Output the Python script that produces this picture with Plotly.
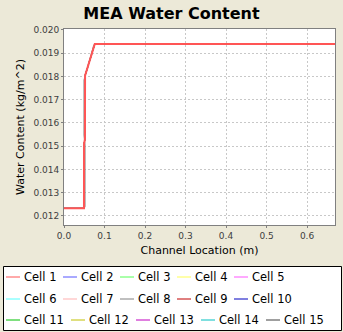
import plotly.graph_objects as go

# channel location (m) and water content (kg/m^2)
loc_main = [0.0, 0.0493, 0.0495, 0.0517, 0.0520, 0.0742, 0.0760, 0.669]
water_main = [0.01233, 0.01233, 0.01510, 0.01530, 0.01803, 0.01935, 0.01940, 0.01940]

# cell 8 is slightly offset at the jump
loc_cell8 = [0.0, 0.0500, 0.0519, 0.0519, 0.0494, 0.0494, 0.0735, 0.0760, 0.669]
water_cell8 = [0.01233, 0.01233, 0.01240, 0.01505, 0.01548, 0.01785, 0.01935, 0.01940, 0.01940]

cell_names = ["Cell %d" % i for i in range(1, 16)]
cell_colors = ["#FF5555", "#5555FF", "#55FF55", "#FFFF55", "#FF55FF",
               "#55FFFF", "#FFAFAF", "#808080", "#C00000", "#0000C0",
               "#00C000", "#C0C000", "#C000C0", "#00C0C0", "#404040"]

y_ticks = [0.012, 0.013, 0.014, 0.015, 0.016, 0.017, 0.018, 0.019, 0.020]
x_ticks = [0.0, 0.1, 0.2, 0.3, 0.4, 0.5, 0.6]

fig = go.Figure()

# draw last series first so Cell 1 ends up on top
for i in reversed(range(len(cell_names))):
    if cell_names[i] == "Cell 8":
        xs, ys = loc_cell8, water_cell8
    else:
        xs, ys = loc_main, water_main
    fig.add_trace(go.Scatter(x=xs, y=ys, mode="lines", name=cell_names[i],
                             line=dict(color=cell_colors[i], width=2 if i == 0 else 1),
                             showlegend=False))

# legend drawn by hand: three rows flowing left to right
W, H = 343, 332
ml, mr, mt, mb = 64, 8, 29, 107
pw, ph = W - ml - mr, H - mt - mb


def px(x):
    return (x - ml) / pw


def py(y):
    return (H - mb - y) / ph


rows = [cell_names[0:5], cell_names[5:10], cell_names[10:15]]
row_y = [277, 299, 320]
shapes = []
annotations = []
k = 0
for r, row in enumerate(rows):
    x0 = 6
    for name in row:
        shapes.append(dict(type="line", xref="paper", yref="paper",
                           x0=px(x0), x1=px(x0 + 14), y0=py(row_y[r]), y1=py(row_y[r]),
                           line=dict(color=cell_colors[k], width=1)))
        annotations.append(dict(text=name, xref="paper", yref="paper",
                                x=px(x0 + 16), y=py(row_y[r]), xanchor="left",
                                yanchor="middle", showarrow=False,
                                font=dict(family="DejaVu Sans", size=11.5, color="#000000")))
        x0 += 8 * len(name) + 9
        k += 1

shapes.append(dict(type="rect", xref="paper", yref="paper",
                   x0=px(3.5), x1=px(341.5), y0=py(266.5), y1=py(330.5),
                   line=dict(color="#000000", width=1), fillcolor="white", layer="below"))

fig.update_layout(
    width=W, height=H,
    margin=dict(l=ml, r=mr, t=mt, b=mb, autoexpand=False),
    paper_bgcolor="#ECE9D8",
    plot_bgcolor="white",
    title=dict(text="<b>MEA Water Content</b>", x=0.5, xref="container", xanchor="center",
               y=1 - 13.5 / H, yref="container", yanchor="middle",
               font=dict(family="DejaVu Sans", size=16, color="#000000")),
    shapes=shapes,
    annotations=annotations,
    xaxis=dict(title=dict(text="Channel Location (m)", standoff=6,
                          font=dict(family="DejaVu Sans", size=11, color="#000000")),
               range=[0, 0.669], tickvals=x_ticks, tickformat=".1f",
               tickfont=dict(family="DejaVu Sans", size=9, color="#404040"),
               showgrid=True, gridcolor="#C8C8C8", griddash="2px,2px",
               showline=True, linecolor="#808080", mirror=True,
               ticks="outside", ticklen=2, tickcolor="#808080", zeroline=False),
    yaxis=dict(title=dict(text="Water Content (kg/m^2)", standoff=6,
                          font=dict(family="DejaVu Sans", size=11, color="#000000")),
               range=[0.01161, 0.02004], tickvals=y_ticks, tickformat=".3f",
               tickfont=dict(family="DejaVu Sans", size=9, color="#404040"),
               showgrid=True, gridcolor="#C8C8C8", griddash="2px,2px",
               showline=True, linecolor="#808080", mirror=True,
               ticks="outside", ticklen=2, tickcolor="#808080", zeroline=False),
)

# page has a default 8px body margin; drop it so the chart fills the window
fig.write_html("out.html", config={"displayModeBar": False},
               post_script="document.body.style.margin = '0';")
